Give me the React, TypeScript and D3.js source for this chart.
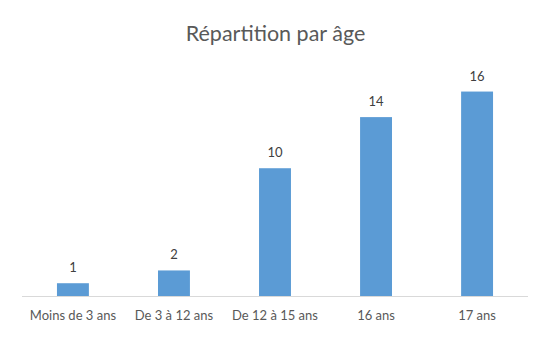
import React from 'react';
import * as d3 from 'd3';

const categories = ['Moins de 3 ans', 'De 3 à 12 ans', 'De 12 à 15 ans', '16 ans', '17 ans'];
const values = [1, 2, 10, 14, 16];
const title = 'Répartition par âge';

const W = 559;
const H = 352;
const margin = { top: 66, right: 31, bottom: 56, left: 22 };
const font = 'Lato, "Open Sans", sans-serif';

export default function App() {
  const x = d3
    .scaleBand()
    .domain(categories)
    .range([margin.left, W - margin.right])
    .paddingInner(0.684)
    .paddingOuter(0.346);

  const y = d3
    .scaleLinear()
    .domain([0, 18])
    .range([H - margin.bottom, margin.top]);

  const base = y(0);

  return (
    <svg width={W} height={H} style={{ position: 'absolute', left: 0, top: 0, background: '#fff' }}>
      <text x={W / 2 - 4} y={41} textAnchor="middle" fontFamily={font} fontSize={21.5} fill="#595959">
        {title}
      </text>
      {categories.map((c, i) => (
        <g key={c}>
          <rect
            x={x(c)}
            y={y(values[i])}
            width={x.bandwidth()}
            height={base - y(values[i])}
            fill="#5B9BD5"
          />
          <text
            x={(x(c) ?? 0) + x.bandwidth() / 2}
            y={y(values[i]) - 11}
            textAnchor="middle"
            fontFamily={font}
            fontSize={13}
            fill="#404040"
          >
            {values[i]}
          </text>
          <text
            x={(x(c) ?? 0) + x.bandwidth() / 2}
            y={base + 24}
            textAnchor="middle"
            fontFamily={font}
            fontSize={13}
            fill="#595959"
          >
            {c}
          </text>
        </g>
      ))}
      <line x1={margin.left} x2={W - margin.right} y1={base + 0.5} y2={base + 0.5} stroke="#D9D9D9" strokeWidth={1} />
    </svg>
  );
}
